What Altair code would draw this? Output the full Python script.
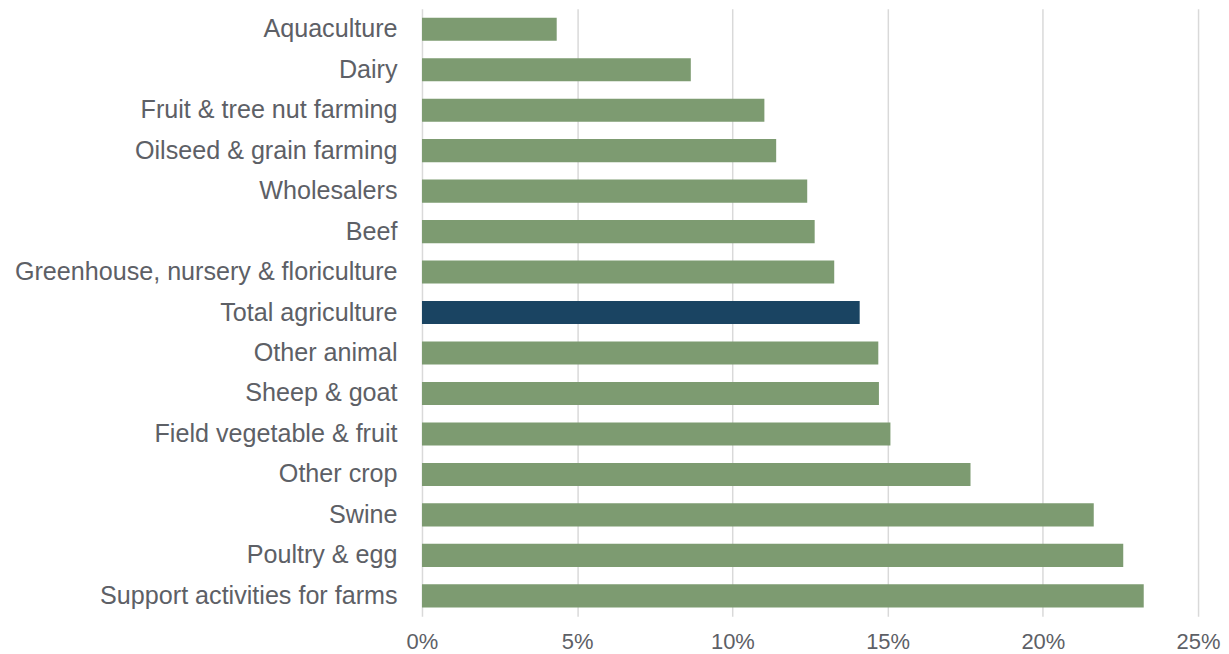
import altair as alt
import pandas as pd

categories = [
    "Aquaculture", "Dairy", "Fruit & tree nut farming", "Oilseed & grain farming",
    "Wholesalers", "Beef", "Greenhouse, nursery & floriculture", "Total agriculture",
    "Other animal", "Sheep & goat", "Field vegetable & fruit", "Other crop",
    "Swine", "Poultry & egg", "Support activities for farms",
]
values = [4.34, 8.66, 11.03, 11.41, 12.41, 12.65, 13.28, 14.10,
          14.70, 14.72, 15.09, 17.67, 21.64, 22.59, 23.25]
groups = ["Sector"] * 7 + ["Total"] + ["Sector"] * 7

df = pd.DataFrame({
    "category": categories,
    "value": [v / 100 for v in values],
    "group": groups,
})

chart = alt.Chart(df).mark_bar().encode(
    y=alt.Y("category:N", sort=categories, title=None,
            scale=alt.Scale(paddingInner=0.43, paddingOuter=0.22),
            axis=alt.Axis(ticks=False, domain=False, labelFontSize=25.2,
                          labelColor="#5d6066", labelPadding=25,
                          labelFont="Liberation Sans", labelLimit=600)),
    x=alt.X("value:Q", title=None,
            scale=alt.Scale(domain=[0, 0.25], nice=False),
            axis=alt.Axis(format=".0%", values=[0, 0.05, 0.10, 0.15, 0.20, 0.25],
                          ticks=False, domain=False, grid=True, labelFlush=False,
                          gridColor="#d9d9d9", gridWidth=1.5,
                          labelFontSize=22, labelColor="#5d6066",
                          labelFont="Liberation Sans", labelPadding=15)),
    color=alt.Color("group:N", legend=None,
                    scale=alt.Scale(domain=["Sector", "Total"],
                                    range=["#7d9b71", "#1a4462"])),
).properties(
    width=778, height=609,
    padding={"left": 6, "top": 0, "right": 0, "bottom": 0},
).configure_view(stroke=None)

chart.save("out.html", embed_options={"renderer": "svg", "actions": False})
